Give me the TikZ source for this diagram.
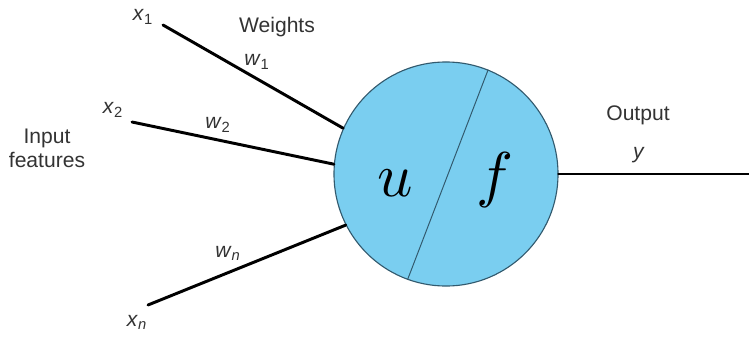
\documentclass[tikz,border=0pt]{standalone}
\usepackage{fontspec}
\setmainfont{Liberation Sans}
\newcommand{\vsub}[2]{\textit{#1}\textsubscript{#2}}
\definecolor{cellblue}{RGB}{122,206,240}
\definecolor{rimblue}{RGB}{50,90,110}
\begin{document}
\begin{tikzpicture}[x=0.025cm, y=-0.025cm,
    wire/.style={line width=2.1pt, line cap=round},
    lbl/.style={font=\fontsize{15}{17}\selectfont, text=black!80, align=center}]
  \useasboundingbox (0,0) rectangle (749,336);
  \node[circle, draw=rimblue, fill=cellblue, line width=0.8pt,
        minimum size=5.6cm, inner sep=0pt] (neuron) at (446,174) {};
  \draw[rimblue, line width=0.7pt] (neuron.68) -- (neuron.250);
  \node[scale=4.4] (u) at (395,183) {$u$};
  \node[scale=4.4] (f) at (495,180) {$f$};
  \coordinate (in1) at (163,25);
  \coordinate (in2) at (132,122);
  \coordinate (inn) at (148,305);
  \coordinate (out) at (752,174);
  \draw[wire] (in1) -- (neuron.156);
  \draw[wire] (in2) -- (neuron.175);
  \draw[wire] (inn) -- (neuron.207);
  \draw[wire] (neuron.east) -- (out);
  \node[lbl] (x1) at (143,17) {\vsub{x}{1}};
  \node[lbl] (x2) at (113,110) {\vsub{x}{2}};
  \node[lbl] (xn) at (137,322) {\vsub{x}{\textit{n}}};
  \node[lbl] (w1) at (257,62) {\vsub{w}{1}};
  \node[lbl] (w2) at (218,125) {\vsub{w}{2}};
  \node[lbl] (wn) at (228,253) {\vsub{w}{\textit{n}}};
  \node[lbl] (weights) at (277,27) {Weights};
  \node[lbl] (inputs) at (47,148) {Input\\features};
  \node[lbl] (output) at (638,115) {Output};
  \node[lbl] (y) at (639,155) {\textit{y}};
\end{tikzpicture}
\end{document}
